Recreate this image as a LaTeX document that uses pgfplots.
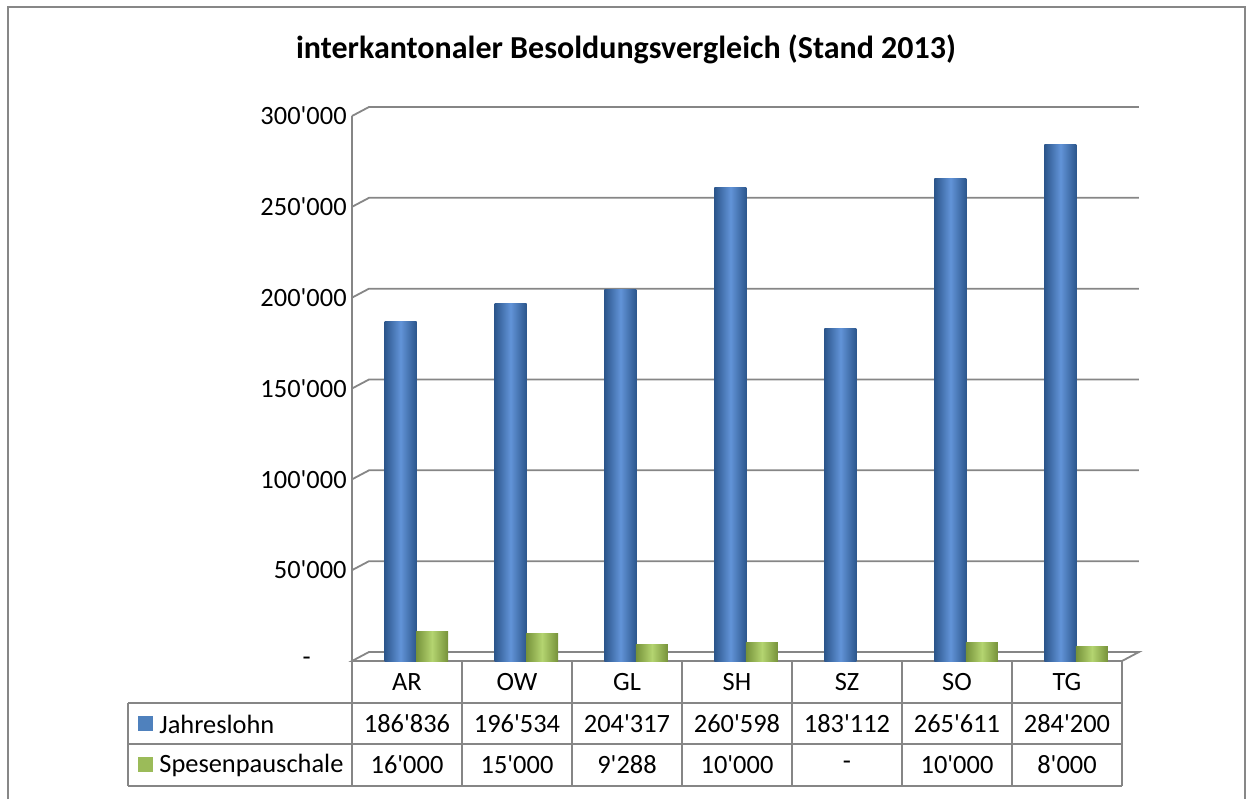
\documentclass[border=0pt]{standalone}
\usepackage{pgfplots}
\pgfplotsset{compat=1.18}
\usepackage{fontspec}
\setmainfont{Carlito}
\definecolor{gridc}{RGB}{134,134,134}
\definecolor{framec}{RGB}{135,135,135}
\definecolor{blueD}{RGB}{44,86,140}
\definecolor{blueL}{RGB}{98,148,216}
\definecolor{blueM}{RGB}{79,129,189}
\definecolor{greenD}{RGB}{118,146,58}
\definecolor{greenL}{RGB}{180,212,112}
\definecolor{greenM}{RGB}{155,187,89}
\newcommand\q{\textquotesingle}
\newcommand\fs{\fontsize{13.2}{15}\selectfont}
\newcommand\bb[2]{\addplot[draw=none, bar shift=-3.25pt, left color=blueD, right color=blueD, middle color=blueL] coordinates {(#1,#2)};}
\newcommand\gb[2]{\addplot[draw=none, bar shift=12.5pt, left color=greenD, right color=greenD, middle color=greenL] coordinates {(#1,#2)};}
\begin{document}
\begin{tikzpicture}
\useasboundingbox (0,0) rectangle (624pt,399.5pt);
\begin{axis}[
  at={(176pt,69pt)}, anchor=south west, scale only axis,
  width=385pt, height=272.5pt,
  xmin=-0.5, xmax=6.5, ymin=0, ymax=300000, clip=false,
  scaled y ticks=false,
  axis line style={draw=none}, tick style={draw=none}, major tick length=0pt,
  xtick={0,1,2,3,4,5,6}, xticklabels={AR,OW,GL,SH,SZ,SO,TG},
  xticklabel style={anchor=center, yshift=-10.5pt, font=\fs},
  ytick={0,50000,100000,150000,200000,250000,300000},
  yticklabels={{\makebox[22pt][l]{-}},50\q000,100\q000,150\q000,200\q000,250\q000,300\q000},
  yticklabel style={anchor=east, inner sep=0pt, xshift=-2.5pt, font=\fs},
  ybar, bar width=16pt,
]
\pgfplotsinvokeforeach{50000,100000,150000,200000,250000,300000}{
  \draw[gridc, line width=0.9pt] (axis cs:-0.5,#1) -- ([xshift=8.5pt,yshift=4.5pt]axis cs:-0.5,#1) -- ([xshift=8.5pt,yshift=4.5pt]axis cs:6.5,#1);
}
\draw[gridc, line width=0.9pt, fill=white] (axis cs:-0.5,0) -- (axis cs:6.5,0) -- ([xshift=8.5pt,yshift=4.5pt]axis cs:6.5,0) -- ([xshift=8.5pt,yshift=4.5pt]axis cs:-0.5,0) -- cycle;
\draw[gridc, line width=0.9pt] (axis cs:-0.5,0) -- (axis cs:-0.5,300000);
% Jahreslohn
\bb{0}{186836}
\bb{1}{196534}
\bb{2}{204317}
\bb{3}{260598}
\bb{4}{183112}
\bb{5}{265611}
\bb{6}{284200}
% Spesenpauschale
\gb{0}{16000}
\gb{1}{15000}
\gb{2}{9288}
\gb{3}{10000}
\gb{4}{0}
\gb{5}{10000}
\gb{6}{8000}
\end{axis}
\begin{scope}[x=0.5pt,y=-0.5pt,shift={(0pt,399.5pt)}]
  \draw[gridc, line width=0.9pt] (128,703) -- (1122,703);
  \draw[gridc, line width=0.9pt] (128,744) -- (1122,744);
  \draw[gridc, line width=0.9pt] (128,786) -- (1122,786);
  \draw[gridc, line width=0.9pt] (128,703) -- (128,786);
  \foreach \x in {352,462,...,1122} \draw[gridc, line width=0.9pt] (\x,661) -- (\x,786);
  \fill[blueM] (138,716) rectangle (153,731);
  \fill[greenM] (138,757) rectangle (153,772);
  \node[anchor=west, inner sep=0pt, font=\fs] at (159,724) {Jahreslohn};
  \node[anchor=west, inner sep=0pt, font=\fs] at (159,765) {Spesenpauschale};
  \foreach \v [count=\i from 0] in {186\q836,196\q534,204\q317,260\q598,183\q112,265\q611,284\q200}
    \node[font=\fs] at (407+110*\i,724) {\v};
  \foreach \v [count=\i from 0] in {16\q000,15\q000,9\q288,10\q000,-,10\q000,8\q000}
    \node[font=\fs] at (407+110*\i,765) {\v};
  \node[font=\fontsize{16}{19}\selectfont\bfseries] at (626,49) {interkantonaler Besoldungsvergleich (Stand 2013)};
\end{scope}
\draw[framec, line width=1pt] (4pt,0) -- (4pt,396pt) -- (622.5pt,396pt) -- (622.5pt,0);
\end{tikzpicture}
\end{document}
